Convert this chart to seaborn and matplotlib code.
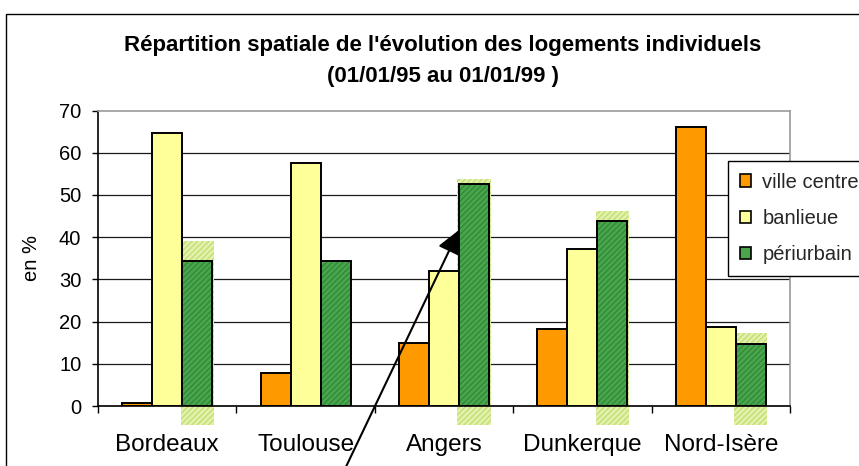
import matplotlib
matplotlib.use("Agg")
import matplotlib.pyplot as plt
from matplotlib.patches import Rectangle, Patch
from matplotlib.ticker import FixedLocator
import seaborn as sns
import pandas as pd

# Share of new individual dwellings (%), 01/01/95 -> 01/01/99
villes = ["Bordeaux", "Toulouse", "Angers", "Dunkerque", "Nord-Isère"]
zones = ["ville centre", "banlieue", "périurbain"]
ville_centre = [0.8, 7.9, 15.0, 18.3, 66.0]
banlieue = [64.6, 57.6, 32.0, 37.3, 18.7]
periurbain = [34.3, 34.3, 52.5, 43.8, 14.7]
y_ticks = [0, 10, 20, 30, 40, 50, 60, 70]

titre_1 = "Répartition spatiale de l'évolution des logements individuels"
titre_2 = "(01/01/95 au 01/01/99 )"
label_y = "en %"

df = pd.DataFrame({
    "ville": villes * 3,
    "zone": [zones[0]] * 5 + [zones[1]] * 5 + [zones[2]] * 5,
    "valeur": ville_centre + banlieue + periurbain,
})

couleurs = {"ville centre": "#FF9900", "banlieue": "#FFFF99", "périurbain": "#4BA54B"}

sns.set_theme(style="white")
plt.rcParams["font.family"] = ["Liberation Sans", "DejaVu Sans"]

W, H = 859, 466
fig = plt.figure(figsize=(W / 100, H / 100), dpi=100)
ax = fig.add_axes([98 / W, 1 - 406 / H, (790 - 98) / W, (406 - 110.5) / H])

sns.barplot(data=df, x="ville", y="valeur", hue="zone", order=villes,
            hue_order=zones, palette=couleurs, width=0.65, gap=0,
            edgecolor="black", linewidth=1.4, saturation=1,
            legend=False, ax=ax, zorder=3)

# pale hatched halo around some périurbain bars
halo_haut = {"Bordeaux": 39.0, "Angers": 53.7, "Dunkerque": 46.3, "Nord-Isère": 17.4}
n = len(villes)
green_bars = ax.patches[2 * n:3 * n]
for ville, p in zip(villes, green_bars):
    if ville in halo_haut:
        x0 = p.get_x() - 0.012
        w = p.get_width() + 0.024
        ax.add_patch(Rectangle((x0, -4.5), w, halo_haut[ville] + 4.5,
                               facecolor="#E2F1AE", edgecolor="#C3DF72",
                               hatch="//////", linewidth=0, zorder=2.5,
                               clip_on=False))

# diagonal texture on the green bars, then redraw their outline
for p in green_bars:
    p.set_hatch("//////")
    p.set_edgecolor("#2F8A3C")
    p.set_linewidth(0)
    ax.add_patch(Rectangle(p.get_xy(), p.get_width(), p.get_height(),
                           fill=False, edgecolor="black", linewidth=1.4,
                           zorder=3.1))

ax.set_xlim(-0.5, n - 0.5)
ax.set_ylim(0, 70)
ax.set_yticks(y_ticks)
ax.set_yticklabels([str(v) for v in y_ticks], fontsize=14.5)
ax.tick_params(axis="y", left=True, length=4, width=1, color="black",
               pad=8, labelcolor="black")
ax.set_xticks(range(n))
ax.set_xticklabels(villes, fontsize=17.5, color="black")
ax.tick_params(axis="x", which="major", length=0, pad=20)
ax.xaxis.set_minor_locator(FixedLocator([i - 0.5 for i in range(n + 1)]))
ax.tick_params(axis="x", which="minor", bottom=True, length=5, width=1,
               color="black", direction="out")
ax.set_xlabel("")

ax.set_axisbelow(True)
ax.yaxis.grid(True, color="#1a1a1a", linewidth=0.9)
ax.yaxis.get_gridlines()[-1].set_visible(False)
for side in ["left", "bottom"]:
    ax.spines[side].set_color("black")
    ax.spines[side].set_linewidth(1.2)
for side in ["top", "right"]:
    ax.spines[side].set_color("#9a9a9a")
    ax.spines[side].set_linewidth(1.2)
    ax.spines[side].set_visible(True)

ax.set_ylabel(label_y, fontsize=14.5, color="black")
ax.yaxis.set_label_coords(-0.082, 0.5)

# arrow pointing at the Angers périurbain bar
tip_x = green_bars[villes.index("Angers")].get_x()
ax.annotate("", xy=(tip_x, 41.7), xycoords="data",
            xytext=(343.5, -6), textcoords="figure pixels",
            arrowprops=dict(arrowstyle="-|>,head_length=0.4,head_width=0.2",
                            mutation_scale=36, color="black", lw=1.5,
                            shrinkA=0, shrinkB=0),
            annotation_clip=False, zorder=4)

# legend
handles = [Patch(facecolor=couleurs[z], edgecolor="black", linewidth=1.2)
           for z in zones]
leg = fig.legend(handles, zones, loc="upper left",
                 bbox_to_anchor=(728 / W, 1 - 160.5 / H),
                 fontsize=14.5, frameon=True, fancybox=False, shadow=False,
                 framealpha=1, edgecolor="black", handlelength=0.55,
                 handleheight=0.55, handletextpad=0.55, labelspacing=0.85,
                 borderpad=0.6, borderaxespad=0)
leg.get_frame().set_linewidth(1.0)

# titles
fig.text(443 / W, 1 - 51 / H, titre_1, ha="center", va="baseline",
         fontsize=16, fontweight="bold", color="black")
fig.text(443 / W, 1 - 82 / H, titre_2, ha="center", va="baseline",
         fontsize=16, fontweight="bold", color="black")

# chart frame
fig.patches.append(Rectangle((6 / W, -0.1), 1.2, 1.1 - 14 / H,
                             transform=fig.transFigure, fill=False,
                             edgecolor="black", linewidth=1.0))

fig.savefig("out.png", dpi=100)
